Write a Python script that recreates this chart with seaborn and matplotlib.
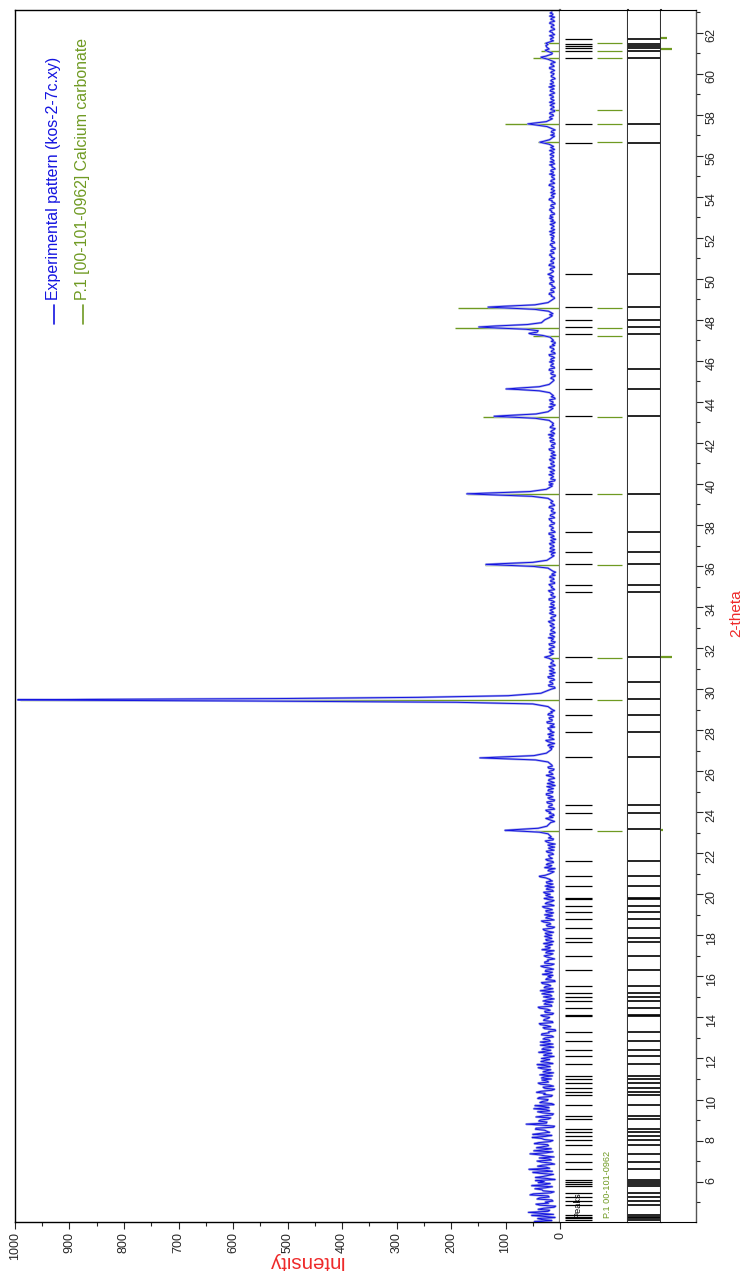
import numpy as np
import pandas as pd
import seaborn as sns
import matplotlib.pyplot as plt
from matplotlib import font_manager
from matplotlib.lines import Line2D
from matplotlib.ticker import MultipleLocator

W, H = 743, 1271

# фон дифрактограми: по рядку на градус (від 4 до 62), крок 0.05 град
bg_start = 4
bg_rows = [
    [24, 47, 15, 33, 41, 9, 28, 52, 12, 35, 58, 22, 19, 40, 30, 11, 8, 37, 44, 21],
    [27, 13, 15, 42, 38, 20, 22, 55, 49, 17, 11, 31, 33, 46, 26, 14, 52, 29, 18, 40],
    [29, 45, 9, 23, 45, 31, 21, 12, 36, 50, 14, 27, 57, 19, 25, 41, 32, 10, 17, 34],
    [42, 16, 20, 38, 11, 27, 37, 55, 26, 13, 48, 30, 16, 43, 31, 21, 23, 47, 39, 18],
    [13, 29, 34, 51, 27, 15, 50, 36, 19, 24, 28, 45, 44, 12, 10, 33, 62, 25, 24, 39],
    [36, 21, 17, 44, 30, 14, 12, 32, 41, 19, 25, 48, 20, 28, 46, 11, 15, 37, 33, 23],
    [22, 41, 38, 16, 14, 30, 27, 43, 35, 15, 10, 28, 31, 12, 19, 36, 40, 21, 24, 33],
    [16, 34, 29, 14, 37, 25, 12, 31, 25, 17, 33, 40, 18, 26, 42, 13, 21, 35, 28, 19],
    [34, 22, 11, 30, 26, 15, 39, 27, 17, 33, 30, 12, 22, 36, 13, 25, 36, 18, 20, 31],
    [27, 12, 15, 34, 33, 20, 21, 8, 9, 28, 31, 17, 24, 36, 38, 13, 14, 30, 29, 22],
    [19, 31, 35, 14, 12, 27, 28, 18, 23, 37, 40, 15, 16, 29, 26, 13, 31, 24, 11, 20],
    [30, 15, 18, 33, 25, 12, 36, 22, 13, 29, 27, 17, 21, 32, 34, 9, 10, 26, 24, 16],
    [22, 13, 32, 20, 14, 27, 26, 12, 19, 30, 35, 16, 11, 28, 28, 21, 23, 10, 17, 25],
    [29, 18, 13, 26, 24, 11, 33, 21, 18, 27, 21, 14, 30, 19, 12, 25, 26, 15, 20, 28],
    [15, 24, 27, 12, 22, 29, 31, 14, 10, 23, 25, 17, 19, 30, 34, 11, 17, 26, 23, 14],
    [28, 17, 12, 25, 26, 14, 20, 29, 32, 11, 16, 27, 24, 15, 11, 22, 29, 13, 21, 26],
    [18, 27, 30, 12, 14, 25, 23, 11, 27, 20, 13, 24, 25, 14, 19, 28, 31, 12, 16, 23],
    [24, 15, 11, 22, 20, 9, 28, 19, 15, 25, 22, 12, 13, 23, 26, 14, 18, 20, 21, 12],
    [14, 23, 25, 11, 17, 21, 10, 18, 22, 9, 19, 24, 27, 13, 12, 21, 20, 10, 16, 22],
    [21, 12, 13, 22, 24, 15, 18, 26, 11, 16, 23, 10, 15, 21, 26, 13, 19, 11, 12, 20],
    [17, 24, 26, 10, 12, 21, 20, 14, 15, 23, 24, 11, 10, 19, 22, 13, 18, 25, 25, 14],
    [13, 22, 21, 12, 18, 24, 9, 15, 23, 11, 16, 21, 20, 10, 12, 19, 25, 13, 15, 20],
    [19, 12, 11, 21, 22, 14, 16, 23, 24, 10, 13, 20, 18, 12, 21, 15, 10, 19, 17, 11],
    [23, 13, 15, 19, 12, 22, 20, 10, 17, 23, 26, 11, 14, 20, 19, 12, 22, 16, 11, 18],
    [16, 21, 22, 10, 18, 13, 11, 23, 24, 15, 14, 19, 20, 12, 13, 22, 21, 14, 17, 10],
    [12, 20, 19, 11, 15, 22, 23, 13, 14, 21, 18, 10, 11, 19, 21, 14, 16, 22, 20, 12],
    [18, 9, 10, 20, 21, 13, 14, 19, 17, 10, 12, 21, 22, 11, 15, 19, 9, 14, 19, 11],
    [13, 18, 20, 9, 11, 17, 16, 12, 22, 10, 14, 19, 18, 11, 10, 17, 19, 12, 15, 20],
    [17, 10, 12, 19, 20, 11, 9, 16, 15, 12, 21, 10, 13, 18, 18, 9, 11, 17, 16, 12],
    [10, 16, 18, 11, 14, 19, 21, 10, 12, 17, 16, 9, 8, 15, 19, 12, 15, 18, 13, 9],
    [19, 12, 11, 17, 16, 10, 13, 20, 20, 11, 9, 15, 17, 12, 14, 19, 21, 10, 12, 16],
    [14, 18, 20, 10, 10, 17, 17, 11, 12, 19, 18, 9, 15, 12, 8, 17, 19, 11, 13, 18],
    [16, 10, 9, 17, 18, 12, 13, 20, 21, 10, 11, 16, 15, 9, 19, 13, 10, 18, 17, 11],
    [12, 18, 19, 10, 14, 17, 8, 13, 17, 11, 13, 20, 20, 9, 11, 16, 16, 12, 14, 19],
    [18, 11, 10, 16, 15, 19, 20, 10, 12, 18, 17, 11, 9, 15, 16, 12, 13, 20, 19, 10],
    [11, 16, 17, 12, 13, 20, 19, 9, 10, 17, 16, 11, 14, 18, 12, 10, 18, 13, 15, 20],
    [13, 19, 20, 10, 9, 17, 16, 12, 14, 20, 11, 15, 18, 10, 12, 17, 21, 11, 10, 16],
    [17, 11, 12, 18, 19, 9, 14, 17, 8, 13, 16, 10, 13, 19, 20, 11, 11, 16, 15, 9],
    [10, 17, 18, 11, 13, 19, 16, 12, 21, 10, 12, 17, 15, 11, 9, 18, 17, 12, 14, 19],
    [15, 10, 11, 18, 17, 12, 13, 19, 19, 9, 10, 17, 16, 11, 14, 20, 12, 9, 18, 13],
    [13, 18, 19, 9, 10, 16, 16, 11, 12, 19, 17, 10, 14, 18, 20, 11, 11, 16, 15, 12],
    [18, 11, 12, 17, 15, 9, 9, 16, 17, 12, 13, 20, 19, 10, 11, 17, 16, 12, 14, 19],
    [11, 17, 16, 10, 13, 19, 20, 9, 10, 16, 15, 11, 12, 18, 18, 10, 14, 9, 9, 16],
    [16, 9, 10, 17, 18, 12, 13, 19, 15, 10, 11, 16, 17, 12, 14, 20, 12, 9, 19, 13],
    [12, 18, 17, 10, 14, 19, 10, 15, 16, 11, 13, 18, 19, 9, 11, 16, 15, 12, 13, 18],
    [17, 10, 11, 16, 15, 20, 19, 11, 12, 17, 16, 9, 10, 15, 14, 19, 18, 11, 12, 17],
    [14, 19, 18, 10, 10, 16, 15, 11, 13, 18, 17, 10, 11, 20, 19, 12, 12, 17, 16, 11],
    [10, 16, 15, 19, 18, 11, 12, 17, 16, 9, 9, 15, 14, 18, 17, 10, 11, 16, 15, 12],
    [16, 11, 12, 18, 14, 10, 19, 13, 10, 16, 15, 11, 13, 18, 11, 9, 17, 12, 14, 19],
    [13, 18, 17, 10, 11, 16, 15, 19, 18, 11, 12, 17, 16, 9, 10, 15, 14, 20, 19, 12],
    [11, 16, 14, 9, 17, 12, 10, 16, 15, 11, 13, 20, 19, 10, 12, 17, 16, 10, 11, 15],
    [15, 10, 19, 13, 12, 17, 16, 9, 11, 15, 14, 19, 10, 12, 18, 11, 13, 17, 17, 12],
    [12, 18, 16, 11, 14, 19, 10, 13, 17, 11, 13, 18, 15, 9, 19, 12, 11, 16, 14, 10],
    [17, 11, 11, 16, 15, 9, 13, 18, 19, 10, 12, 17, 16, 11, 10, 15, 14, 19, 18, 12],
    [13, 19, 18, 10, 10, 17, 16, 11, 12, 18, 15, 10, 19, 14, 11, 16, 17, 12, 13, 19],
    [16, 10, 12, 18, 17, 11, 14, 20, 10, 15, 18, 12, 13, 17, 15, 9, 11, 16, 16, 12],
    [11, 17, 15, 10, 13, 19, 19, 11, 12, 17, 16, 9, 10, 18, 17, 11, 14, 19, 12, 10],
    [18, 12, 13, 17, 16, 10, 11, 18, 15, 20, 19, 11, 12, 17, 17, 12, 14, 19, 10, 13],
    [14, 19, 17, 10, 11, 16, 16, 11, 13, 19, 18, 10, 12, 17, 15, 10, 19, 14, 13, 18],
    [15],
]

# профілі піків (2-theta, інтенсивність)
peak_theta = [
    [20.72, 20.8, 20.85, 20.88, 20.93, 21.0],
    [22.8, 22.95, 23.03, 23.08, 23.12, 23.16, 23.22, 23.32, 23.5],
    [26.3, 26.45, 26.55, 26.61, 26.65, 26.69, 26.76, 26.88, 27.05],
    [29.0, 29.15, 29.28, 29.36, 29.42, 29.46, 29.48, 29.5, 29.54, 29.6, 29.68, 29.8, 30.0],
    [31.4, 31.5, 31.56, 31.62, 31.72],
    [35.75, 35.9, 35.98, 36.04, 36.08, 36.12, 36.18, 36.28, 36.45],
    [39.15, 39.3, 39.4, 39.47, 39.52, 39.56, 39.63, 39.74, 39.9],
    [42.95, 43.1, 43.2, 43.26, 43.3, 43.34, 43.41, 43.52, 43.68],
    [44.3, 44.45, 44.54, 44.6, 44.63, 44.67, 44.74, 44.85, 45.0],
    [47.0, 47.15, 47.24, 47.3, 47.34, 47.4, 47.47, 47.54, 47.6, 47.65, 47.7, 47.77, 47.86, 47.95, 48.0, 48.1, 48.2],
    [48.3, 48.42, 48.51, 48.58, 48.62, 48.66, 48.73, 48.84, 49.0],
    [50.1, 50.18, 50.22, 50.27, 50.35],
    [56.45, 56.56, 56.62, 56.66, 56.7, 56.78, 56.9],
    [57.3, 57.42, 57.5, 57.55, 57.59, 57.66, 57.8],
    [60.6, 60.7, 60.76, 60.8, 60.85, 60.95],
    [61.0, 61.08, 61.14, 61.2, 61.28, 61.36, 61.42, 61.48, 61.58],
]
peak_counts = [
    [18, 26, 36, 38, 27, 19],
    [16, 22, 38, 72, 101, 78, 40, 24, 17],
    [15, 22, 45, 105, 147, 110, 48, 25, 16],
    [14, 22, 50, 190, 560, 900, 995, 870, 520, 260, 95, 35, 16],
    [13, 20, 28, 19, 12],
    [13, 22, 48, 100, 136, 104, 50, 24, 14],
    [13, 22, 52, 125, 171, 130, 55, 25, 14],
    [12, 20, 45, 92, 121, 95, 44, 22, 13],
    [12, 19, 38, 75, 99, 78, 38, 20, 13],
    [12, 18, 32, 52, 57, 42, 40, 62, 115, 149, 118, 60, 34, 30, 28, 20, 14],
    [13, 21, 46, 100, 132, 104, 46, 22, 13],
    [12, 18, 22, 17, 12],
    [12, 20, 31, 37, 30, 19, 13],
    [13, 24, 45, 59, 47, 25, 14],
    [13, 22, 31, 35, 26, 15],
    [14, 22, 27, 20, 24, 26, 22, 26, 14],
]

# штрихи еталону P.1 (кальцит)
ref_pos = [23.1, 29.46, 31.52, 36.06, 39.5, 43.25, 47.2, 47.6, 48.6,
           56.66, 57.52, 58.22, 60.78, 61.1, 61.5]
ref_height = [45, 990, 20, 138, 170, 141, 50, 193, 187,
              40, 101, 15, 50, 35, 29]

# знайдені піки (Peaks)
peaks_found = [
    4.13, 4.21, 4.29, 4.37, 4.88, 5.07, 5.25, 5.43, 5.77, 5.89, 6.0, 6.1,
    6.6, 6.96, 7.33, 7.77, 8.05, 8.24, 8.44, 8.54, 9.07, 9.19, 9.74, 10.23,
    10.38, 10.58, 10.81, 10.99, 11.17, 11.74, 12.1, 12.39, 12.84, 13.28,
    14.06, 14.13, 14.44, 14.81, 15.02, 15.2, 15.53, 16.29, 17.01, 17.66,
    17.85, 18.38, 18.78, 19.15, 19.41, 19.76, 19.84, 20.42, 20.89, 21.63,
    23.16, 23.97, 24.34, 26.67, 27.92, 28.74, 29.5, 30.37, 31.58, 34.73,
    35.07, 36.11, 36.68, 37.64, 39.53, 43.3, 44.63, 45.6, 47.33, 47.67,
    47.98, 48.63, 50.23, 56.63, 57.56, 60.77, 61.12, 61.24, 61.33, 61.43,
    61.7,
]

# короткі зелені позначки праворуч
diff_pos = [23.12, 31.56, 61.22, 61.72]
diff_len = [0.05, 0.31, 0.31, 0.17]

BLUE = "#1414e0"
BLUE_LIGHT = "#a4a8ea"
GREEN = "#6f9a22"
RED = "#ee2a2a"


def pick_font(names):
    for n in names:
        try:
            font_manager.findfont(font_manager.FontProperties(family=n),
                                  fallback_to_default=False)
            return n
        except ValueError:
            pass
    return "DejaVu Sans"


sns.set_style("ticks")
font = pick_font(["Liberation Sans Narrow", "Liberation Sans", "Arial"])
plt.rcParams["font.family"] = [font, "DejaVu Sans"]
k = 1.0 if "Narrow" in font else 0.82

# збирання профілю
theta_bg = np.concatenate([bg_start + i + np.arange(len(r)) / len(r)
                           for i, r in enumerate(bg_rows)])
counts_bg = np.concatenate([np.array(r, float) for r in bg_rows])
keep = np.ones(len(theta_bg), bool)
for t in peak_theta:
    keep &= ~((theta_bg >= t[0]) & (theta_bg <= t[-1]))
pattern = pd.DataFrame({
    "two_theta": np.concatenate([theta_bg[keep]] + [np.array(t) for t in peak_theta]),
    "intensity": np.concatenate([counts_bg[keep]] + [np.array(c, float) for c in peak_counts]),
}).sort_values("two_theta")

fig = plt.figure(figsize=(W / 100, H / 100), dpi=100)


def box(x0, x1, y0=10, y1=1222):
    return [x0 / W, 1 - y1 / H, (x1 - x0) / W, (y1 - y0) / H]


ax = fig.add_axes(box(15, 560))
ax_pk = fig.add_axes(box(560, 628), sharey=ax)
ax_bx = fig.add_axes(box(628, 661), sharey=ax)
ax_df = fig.add_axes(box(661, 696), sharey=ax)

# основна панель
ax.hlines(ref_pos, 0, ref_height, color=GREEN, lw=1.0, zorder=1)
sns.lineplot(data=pattern, x="intensity", y="two_theta", orient="y", sort=True,
             estimator=None, ax=ax, color=BLUE_LIGHT, lw=1.6, zorder=2)
sns.lineplot(data=pattern, x="intensity", y="two_theta", orient="y", sort=True,
             estimator=None, ax=ax, color=BLUE, lw=0.7, zorder=3)
ax.set_xlim(1000, 0)
ax.set_ylim(4.03, 63.1)
ax.set_xlabel("")
ax.set_ylabel("")
ax.xaxis.set_major_locator(MultipleLocator(100))
ax.xaxis.set_minor_locator(MultipleLocator(50))
ax.tick_params(axis="x", which="major", bottom=True, direction="out", length=5,
               width=0.8, labelrotation=90, labelsize=11 * k, pad=2)
ax.tick_params(axis="x", which="minor", bottom=True, direction="out", length=3, width=0.8)
ax.tick_params(axis="y", which="both", left=False, labelleft=False, right=False)
for s in ["left", "top", "bottom"]:
    ax.spines[s].set_color("black")
    ax.spines[s].set_linewidth(1.0)
ax.spines["right"].set_color("#808080")
ax.spines["right"].set_linewidth(1.6)

# панель піків
ax_pk.hlines(peaks_found, 0.074, 0.47, color="black", lw=0.9)
ax_pk.hlines(ref_pos, 0.544, 0.91, color=GREEN, lw=0.9)
ax_bx.hlines(peaks_found, 0, 1, color="black", lw=1.2)
ax_df.hlines(diff_pos, 0, diff_len, color=GREEN, lw=1.6)

for a in (ax_pk, ax_bx, ax_df):
    a.set_xlim(0, 1)
    a.set_xticks([])
    a.tick_params(axis="y", which="both", left=False, labelleft=False)
    a.spines["left"].set_visible(False)
    a.spines["top"].set_color("black")
    a.spines["bottom"].set_color("black")
    a.spines["right"].set_color("#333333")
    a.spines["right"].set_linewidth(1.5)

ax_df.spines["right"].set_color("#555555")
ax_df.spines["right"].set_linewidth(1.0)
ax_df.yaxis.set_major_locator(MultipleLocator(2))
ax_df.yaxis.set_minor_locator(MultipleLocator(1))
ax_df.tick_params(axis="y", which="major", right=True, labelright=True, direction="out",
                  length=5, width=0.8, labelrotation=90, labelsize=11 * k, pad=2)
ax_df.tick_params(axis="y", which="minor", right=True, direction="out", length=3, width=0.8)

# підписи
fig.text(305 / W, 1 - 1262 / H, "Intensity", rotation=180, color=RED,
         fontsize=18 * k, ha="center", va="center")
fig.text(736 / W, 1 - 613 / H, "2-theta", rotation=90, color=RED,
         fontsize=13.5 * k, ha="center", va="center")
fig.text(578 / W, 1 - 1218 / H, "Peaks", rotation=90, color="black",
         fontsize=8 * k, ha="center", va="bottom")
fig.text(608 / W, 1 - 1218 / H, "P.1 00-101-0962", rotation=90, color=GREEN,
         fontsize=8 * k, ha="center", va="bottom")

# легенда
for xc, col, label in [(54, BLUE, "Experimental pattern (kos-2-7c.xy)"),
                       (83, GREEN, "P.1 [00-101-0962] Calcium carbonate")]:
    fig.add_artist(Line2D([xc / W, xc / W], [1 - 324 / H, 1 - 305 / H], color=col, lw=1.2))
    fig.text(xc / W, 1 - 300 / H, label, rotation=90, color=col,
             fontsize=14 * k, ha="center", va="bottom")

fig.savefig("out.png", dpi=100)
